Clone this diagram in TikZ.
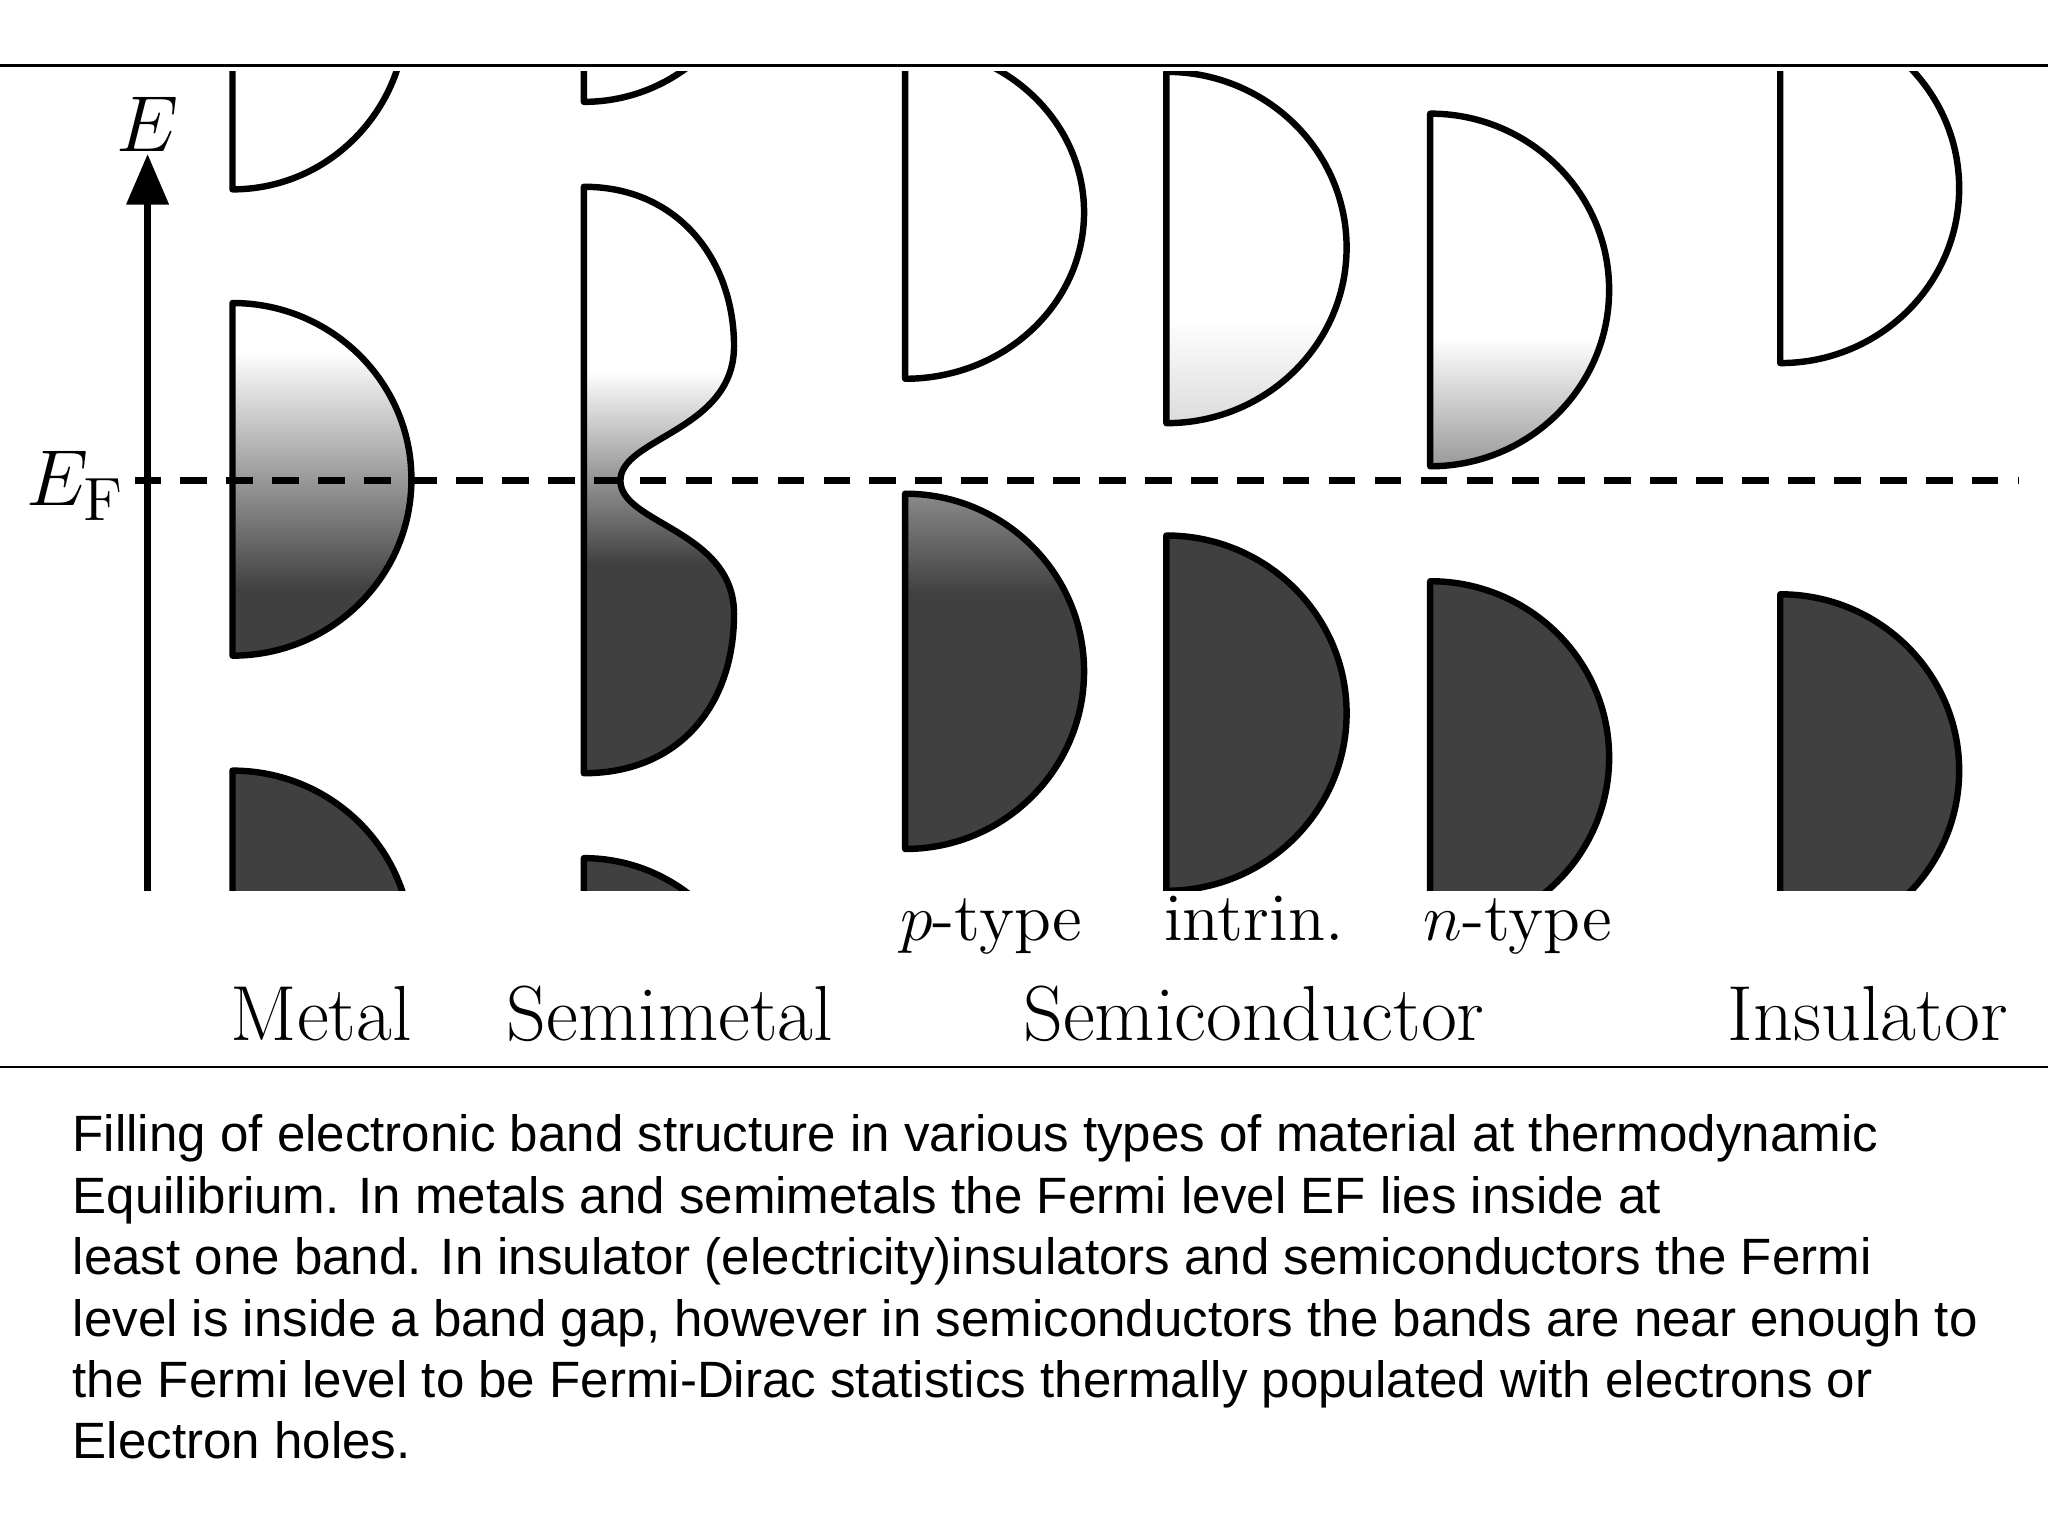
\documentclass[tikz,border=0pt]{standalone}
\usepackage{fontspec}
\usetikzlibrary{arrows.meta}
\newfontfamily\capfont{Liberation Sans}
\definecolor{dk}{HTML}{404040}
\begin{document}
\begin{tikzpicture}[x=0.01cm,y=-0.01cm,
  bandline/.style={line width=1.4pt,line join=round},
  lab/.style={font=\fontsize{17}{20}\selectfont, anchor=base},
  sublab/.style={font=\fontsize{14.8}{17}\selectfont, anchor=base},
  capline/.style={font=\capfont\fontsize{11.12}{13}\selectfont, anchor=base west, inner sep=0pt}]
\useasboundingbox (0,0) rectangle (1568,1176);
\fill[white] (0,0) rectangle (1568,1176);
\draw[line width=0.6pt] (0,50) -- (1568,50);
\draw[line width=0.6pt] (0,817) -- (1568,817);
\newcommand{\bandpath}[4]{(#1,#2) arc[start angle=-90,end angle=90,x radius=#4,y radius={(#3-#2)/2}] -- cycle}
\begin{scope}
\clip (0,55) rectangle (1568,682);
% Metal
\draw[bandline] \bandpath{178}{-125}{145}{133};
\begin{scope}\clip \bandpath{178}{232}{502}{137};
 \fill[white] (170,225) rectangle (330,270);
 \shade[top color=white,bottom color=dk] (170,269) rectangle (330,452);
 \fill[dk] (170,451) rectangle (330,510);
\end{scope}
\draw[bandline] \bandpath{178}{232}{502}{137};
\draw[bandline,fill=dk] \bandpath{178}{590}{860}{137};
% Semimetal
\draw[bandline] \bandpath{447}{-190}{78}{133};
\path[save path=\smpath] (447,143) .. controls (520,143) and (562,200) .. (562,265)
  .. controls (562,330) and (475,335) .. (475,368)
  .. controls (475,401) and (562,406) .. (562,470)
  .. controls (562,540) and (520,592) .. (447,592) -- cycle;
\begin{scope}\clip[use path=\smpath];
 \fill[white] (440,140) rectangle (570,285);
 \shade[top color=white,bottom color=dk] (440,284) rectangle (570,432);
 \fill[dk] (440,431) rectangle (570,600);
\end{scope}
\draw[bandline,use path=\smpath];
\draw[bandline,fill=dk] \bandpath{447}{657}{927}{133};
% p-type
\draw[bandline] \bandpath{693}{35}{290}{137};
\begin{scope}\clip \bandpath{693}{378}{650}{137};
 \shade[top color=black!45,bottom color=dk] (685,375) rectangle (840,455);
 \fill[dk] (685,454) rectangle (840,660);
\end{scope}
\draw[bandline] \bandpath{693}{378}{650}{137};
% intrinsic
\begin{scope}\clip \bandpath{893}{55}{324}{138};
 \fill[white] (885,50) rectangle (1040,245);
 \shade[top color=white,bottom color=black!15] (885,244) rectangle (1040,330);
\end{scope}
\draw[bandline] \bandpath{893}{55}{324}{138};
\draw[bandline,fill=dk] \bandpath{893}{410}{682}{138};
% n-type
\begin{scope}\clip \bandpath{1095}{87}{357}{137};
 \fill[white] (1090,80) rectangle (1240,260);
 \shade[top color=white,bottom color=black!42] (1090,259) rectangle (1240,362);
\end{scope}
\draw[bandline] \bandpath{1095}{87}{357}{137};
\draw[bandline,fill=dk] \bandpath{1095}{445}{715}{137};
% insulator
\draw[bandline] \bandpath{1363}{10}{278}{137};
\draw[bandline,fill=dk] \bandpath{1363}{455}{725}{137};
\end{scope}
% axis
\coordinate (a0) at (113,682);
\coordinate (a1) at (113,118);
\draw[line width=1.4pt,-{Triangle[length=11pt,width=9pt]}] (a0) -- (a1);
\node[font=\fontsize{19}{22}\selectfont] (E) at (113,95) {$E$};
\coordinate (t0) at (103,368);
\coordinate (t1) at (1545,368);
\draw[line width=1.4pt,dash pattern=on 5.8pt off 4.2pt] (t0) -- (t1);
\node[font=\fontsize{19}{22}\selectfont,anchor=east,inner sep=1pt] (EF) at (100,372) {$E_{\mathrm{F}}$};
% labels
\node[sublab] (lp) at (759,720) {$p$-type};
\node[sublab] (li) at (960,720) {intrin.};
\node[sublab] (ln) at (1162,720) {$n$-type};
\node[lab] (l1) at (246,797) {Metal};
\node[lab] (l2) at (513,797) {Semimetal};
\node[lab] (l3) at (960,797) {Semiconductor};
\node[lab] (l4) at (1430,797) {Insulator};
% caption
\node[capline] (c1) at (55,882) {Filling of electronic band structure in various types of material at thermodynamic};
\node[capline] (c2) at (55,929) {Equilibrium. In metals and semimetals the Fermi level EF lies inside at};
\node[capline] (c3) at (55,976) {least one band. In insulator (electricity)insulators and semiconductors the Fermi};
\node[capline] (c4) at (55,1023) {level is inside a band gap, however in semiconductors the bands are near enough to};
\node[capline] (c5) at (55,1070) {the Fermi level to be Fermi-Dirac statistics thermally populated with electrons or};
\node[capline] (c6) at (55,1117) {Electron holes.};
\end{tikzpicture}
\end{document}
